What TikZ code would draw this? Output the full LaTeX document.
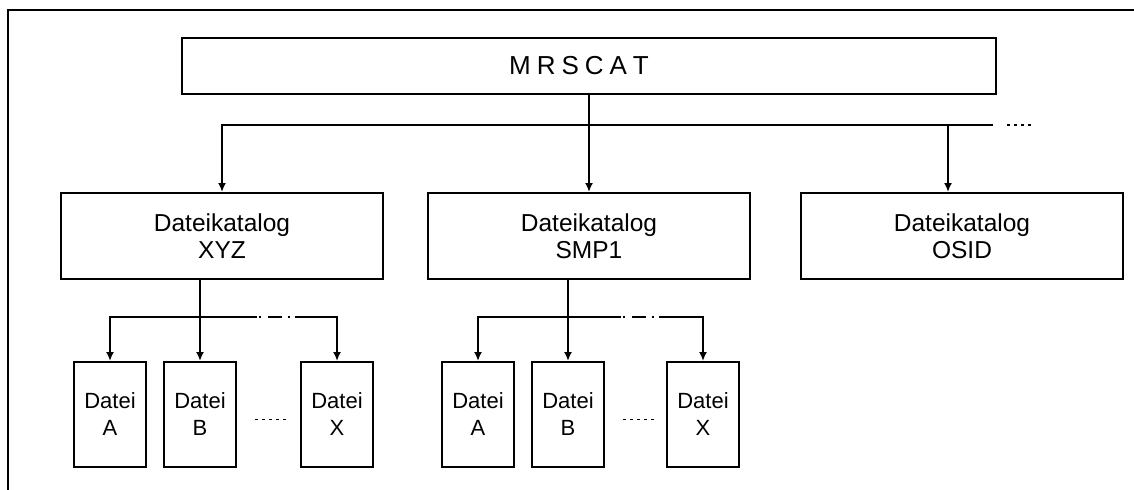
\documentclass[tikz,border=0pt]{standalone}
\usepackage{fontspec}
\setmainfont{Liberation Sans}
\usetikzlibrary{arrows.meta}

\tikzset{
	kasten/.style={draw, line width=1pt, inner sep=0pt, align=center},
	katalog/.style={kasten, minimum width=161pt, minimum height=43pt, font=\fontsize{12.25}{13.5}\selectfont},
	datei/.style={kasten, minimum width=36pt, minimum height=52.5pt, font=\fontsize{11}{13.5}\selectfont},
	linie/.style={line width=1pt},
	pfeil/.style={linie, -{Latex[length=4.5pt,width=4pt]}},
	punkte/.style={line width=0.8pt, dash pattern=on 1.5pt off 2pt},
	strichpunkt/.style={linie, dash pattern=on 0pt off 1pt on 1pt off 3.5pt on 7pt off 3pt on 1pt off 2.5pt}
}

\begin{document}
\begin{tikzpicture}[x=0.5pt, y=-0.5pt]
		\useasboundingbox (0,0) rectangle (1134,489);
		% Rahmen
		\draw[linie] (8,500) -- (8,10) -- (1150,10);

		\node[kasten, minimum width=407pt, minimum height=28pt, font=\fontsize{13}{15}\selectfont] (mrscat) at (589,66)
			{M\hspace{3pt}R\hspace{3pt}S\hspace{3pt}C\hspace{3pt}A\hspace{3pt}T\hspace{10pt}};

		\node[katalog] (katXYZ) at (222,236) {Dateikatalog\\XYZ};
		\node[katalog] (katSMP) at (589,236) {Dateikatalog\\SMP1};
		\node[katalog] (katOSID) at (962,236) {Dateikatalog\\OSID};

		% Verteiler unter MRSCAT
		\coordinate (busL) at (katXYZ.north |- 0,125);
		\coordinate (busR) at (993,125);
		\draw[pfeil] (mrscat.south) -- (katSMP.north);
		\draw[pfeil] (busR) -- (busL) -- (katXYZ.north);
		\draw[pfeil] ([xshift=-7pt]katOSID.north |- busR) -- ([xshift=-7pt]katOSID.north);
		\draw[punkte] ([xshift=7pt]busR) -- ++(28,0);

		\foreach \name/\pos/\buchst in {xyzA/110/A, xyzB/200/B, xyzX/337/X, smpA/478/A, smpB/568/B, smpX/703/X}
			\node[datei] (\name) at (\pos,414.5) {Datei\\\buchst};

		\foreach \kat/\grp/\lu/\ru in {katXYZ/xyz/257/295, katSMP/smp/621/659}
		{
			\coordinate (\grp L) at (\lu,317);
			\coordinate (\grp R) at (\ru,317);
			\draw[pfeil] (\kat.south -| \grp B.north) -- (\grp B.north);
			\draw[pfeil] (\grp L) -- (\grp A.north |- \grp L) -- (\grp A.north);
			\draw[pfeil] (\grp R) -- (\grp X.north |- \grp R) -- (\grp X.north);
			\draw[strichpunkt] (\grp L) -- (\grp R);
			\draw[punkte] ([xshift=9pt,yshift=-2.5pt]\grp B.east) -- ([xshift=-6pt,yshift=-2.5pt]\grp X.west);
		}
	\end{tikzpicture}
\end{document}
